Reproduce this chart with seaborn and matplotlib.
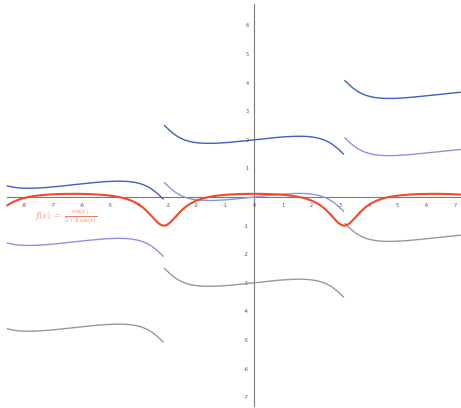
import numpy as np
import pandas as pd
import matplotlib
matplotlib.use("Agg")
import matplotlib.pyplot as plt
import seaborn as sns

# ---- data -------------------------------------------------------------
# f(x) = cos(x) / (5 + 4 cos(x)); its antiderivative branches F(x) + C
shift_constants = [2, 0, -3]                 # constants C of the three antiderivative curves
curve_colors = ["#3f5fc2", "#8f92dc", "#999999"]
f_color = "#f04a26"
x_min, x_max = -8.6, 7.21
branch_breaks = [-np.pi, np.pi]              # discontinuities of the arctan form
x_ticks = [-8, -7, -6, -5, -4, -3, -2, -1, 0, 1, 2, 3, 4, 5, 6, 7]
y_ticks = [-7, -6, -5, -4, -3, -2, -1, 1, 2, 3, 4, 5, 6]
legend_text = r"$f(x)\ =\ \frac{\cos(x)}{5+4\ \cos(x)}$"


def f(x):
    return np.cos(x) / (5 + 4 * np.cos(x))


def F(x, c):
    return x / 4 - (5 / 6) * np.arctan(np.tan(x / 2) / 3) + c


sns.set_style("white")
fig = plt.figure(figsize=(4.61, 4.08), dpi=100)
ax = fig.add_axes([0, 0, 1, 1])

# antiderivative branches
edges = [x_min] + branch_breaks + [x_max]
eps = 0.02
for c, col in zip(shift_constants, curve_colors):
    for a, b in zip(edges[:-1], edges[1:]):
        lo = a + (eps if a in branch_breaks else 0)
        hi = b - (eps if b in branch_breaks else 0)
        xs = np.linspace(lo, hi, 400)
        df = pd.DataFrame({"x": xs, "y": F(xs, c)})
        sns.lineplot(data=df, x="x", y="y", ax=ax, color=col, linewidth=1.0,
                     estimator=None, sort=False)

# f itself
xs = np.linspace(x_min, x_max, 1500)
sns.lineplot(data=pd.DataFrame({"x": xs, "y": f(xs)}), x="x", y="y", ax=ax,
             color=f_color, linewidth=1.5, estimator=None, sort=False, zorder=5)

ax.set_xlim(-8.85, 7.21)
ax.set_ylim(-7.38, 6.89)
ax.set_xlabel("")
ax.set_ylabel("")

# axes through origin
for side in ["top", "right"]:
    ax.spines[side].set_visible(False)
ax.spines["left"].set_position(("data", 0))
ax.spines["bottom"].set_position(("data", 0))
ax.spines["left"].set_bounds(-7.3, 6.75)
ax.spines["bottom"].set_bounds(x_min, 7.21)
for side in ["left", "bottom"]:
    ax.spines[side].set_color("#7a7a7a")
    ax.spines[side].set_linewidth(0.8)
    ax.spines[side].set_zorder(1)

ax.set_xticks(x_ticks)
ax.set_yticks(y_ticks)
ax.set_xticklabels([str(t) for t in x_ticks])
ax.set_yticklabels([str(t) for t in y_ticks])
ax.tick_params(axis="both", which="both", direction="out", length=1.5, width=0.6,
               color="#7a7a7a", labelsize=3.6, labelcolor="#555555", pad=2.5)

# formula label
ax.text(-7.65, -0.74, legend_text, color="#f07a5c", fontsize=6.2,
        ha="left", va="center", math_fontfamily="cm")

fig.savefig("out.png", dpi=100, facecolor="white")
